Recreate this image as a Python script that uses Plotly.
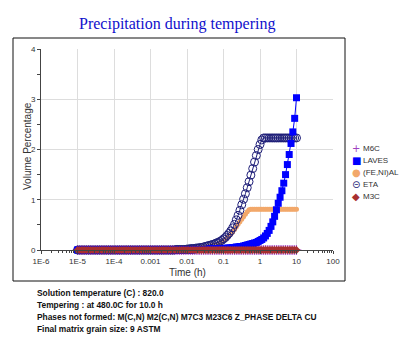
import plotly.graph_objects as go

W, H = 419, 345

# ---------------- data ----------------
time_h = [
    1.00e-5, 1.12e-5, 1.26e-5, 1.41e-5, 1.58e-5, 1.78e-5, 2.00e-5, 2.24e-5, 2.51e-5, 2.82e-5,
    3.16e-5, 3.55e-5, 3.98e-5, 4.47e-5, 5.01e-5, 5.62e-5, 6.31e-5, 7.08e-5, 7.94e-5, 8.91e-5,
    1.00e-4, 1.12e-4, 1.26e-4, 1.41e-4, 1.58e-4, 1.78e-4, 2.00e-4, 2.24e-4, 2.51e-4, 2.82e-4,
    3.16e-4, 3.55e-4, 3.98e-4, 4.47e-4, 5.01e-4, 5.62e-4, 6.31e-4, 7.08e-4, 7.94e-4, 8.91e-4,
    1.00e-3, 1.12e-3, 1.26e-3, 1.41e-3, 1.58e-3, 1.78e-3, 2.00e-3, 2.24e-3, 2.51e-3, 2.82e-3,
    3.16e-3, 3.55e-3, 3.98e-3, 4.47e-3, 5.01e-3, 5.62e-3, 6.31e-3, 7.08e-3, 7.94e-3, 8.91e-3,
    0.0100, 0.0112, 0.0126, 0.0141, 0.0158, 0.0178, 0.0200, 0.0224, 0.0251, 0.0282,
    0.0316, 0.0355, 0.0398, 0.0447, 0.0501, 0.0562, 0.0631, 0.0708, 0.0794, 0.0891,
    0.100, 0.112, 0.126, 0.141, 0.158, 0.178, 0.200, 0.224, 0.251, 0.282,
    0.316, 0.355, 0.398, 0.447, 0.501, 0.562, 0.631, 0.708, 0.794, 0.891,
    1.00, 1.12, 1.26, 1.41, 1.58, 1.78, 2.00, 2.24, 2.51, 2.82,
    3.16, 3.55, 3.98, 4.47, 5.01, 5.62, 6.31, 7.08, 7.94, 8.91,
    10.0,
]

m6c = [
    0, 0, 0, 0, 0, 0, 0, 0, 0, 0,
    0, 0, 0, 0, 0, 0, 0, 0, 0, 0,
    0, 0, 0, 0, 0, 0, 0, 0, 0, 0,
    0, 0, 0, 0, 0, 0, 0, 0, 0, 0,
    0, 0, 0, 0, 0, 0, 0, 0, 0, 0,
    0, 0, 0, 0, 0, 0, 0, 0, 0, 0,
    0, 0, 0, 0, 0, 0, 0, 0, 0, 0,
    0, 0, 0, 0, 0, 0, 0, 0, 0, 0,
    0, 0, 0, 0, 0, 0, 0, 0, 0, 0,
    0, 0, 0, 0, 0, 0, 0, 0, 0, 0,
    0, 0, 0, 0, 0, 0, 0, 0, 0, 0,
    0, 0, 0, 0, 0, 0, 0, 0, 0, 0,
    0,
]

laves = [
    0, 0, 0, 0, 0, 0, 0, 0, 0, 0,
    0, 0, 0, 0, 0, 0, 0, 0, 0, 0,
    0, 0, 0, 0, 0, 0, 0, 0, 0, 0,
    0, 0, 0, 0, 0, 0, 0, 0, 0, 0,
    0, 0, 0, 0, 0, 0, 0, 0, 0, 0,
    0, 0, 0, 0, 0, 0, 0, 0, 0, 0,
    0.00, 0.00, 0.00, 0.00, 0.01, 0.01, 0.01, 0.01, 0.01, 0.01,
    0.01, 0.01, 0.02, 0.02, 0.02, 0.02, 0.02, 0.02, 0.03, 0.03,
    0.03, 0.03, 0.04, 0.04, 0.04, 0.05, 0.05, 0.06, 0.06, 0.07,
    0.07, 0.08, 0.09, 0.10, 0.11, 0.12, 0.13, 0.14, 0.15, 0.17,
    0.19, 0.21, 0.24, 0.28, 0.33, 0.39, 0.47, 0.56, 0.67, 0.80,
    0.93, 1.05, 1.18, 1.33, 1.50, 1.70, 1.90, 2.12, 2.35, 2.62,
    3.03,
]

fe_ni_al = [
    0, 0, 0, 0, 0, 0, 0, 0, 0, 0,
    0, 0, 0, 0, 0, 0, 0, 0, 0, 0,
    0, 0, 0, 0, 0, 0, 0, 0, 0, 0,
    0, 0, 0, 0, 0, 0, 0, 0, 0, 0,
    0, 0, 0, 0, 0, 0, 0, 0, 0, 0,
    0, 0, 0, 0, 0, 0, 0, 0, 0, 0,
    0.01, 0.01, 0.02, 0.02, 0.02, 0.03, 0.03, 0.04, 0.04, 0.05,
    0.05, 0.06, 0.07, 0.08, 0.09, 0.10, 0.11, 0.12, 0.14, 0.16,
    0.18, 0.21, 0.24, 0.28, 0.32, 0.36, 0.41, 0.46, 0.51, 0.56,
    0.61, 0.66, 0.71, 0.76, 0.80, 0.81, 0.81, 0.81, 0.81, 0.81,
    0.81, 0.81, 0.81, 0.81, 0.81, 0.81, 0.81, 0.81, 0.81, 0.81,
    0.81, 0.81, 0.81, 0.81, 0.81, 0.81, 0.81, 0.81, 0.81, 0.81,
    0.81,
]

eta = [
    0, 0, 0, 0, 0, 0, 0, 0, 0, 0,
    0, 0, 0, 0, 0, 0, 0, 0, 0, 0,
    0, 0, 0, 0, 0, 0, 0, 0, 0, 0,
    0, 0, 0, 0, 0, 0, 0, 0, 0, 0,
    0, 0, 0, 0, 0, 0, 0, 0, 0, 0,
    0, 0, 0, 0, 0.01, 0.01, 0.01, 0.01, 0.01, 0.01,
    0.02, 0.02, 0.03, 0.03, 0.03, 0.04, 0.04, 0.05, 0.05, 0.06,
    0.07, 0.08, 0.09, 0.10, 0.11, 0.12, 0.14, 0.15, 0.17, 0.19,
    0.22, 0.25, 0.29, 0.33, 0.38, 0.44, 0.51, 0.60, 0.69, 0.79,
    0.90, 1.01, 1.12, 1.24, 1.36, 1.49, 1.62, 1.75, 1.88, 2.00,
    2.10, 2.19, 2.23, 2.23, 2.23, 2.23, 2.23, 2.23, 2.23, 2.23,
    2.23, 2.23, 2.23, 2.23, 2.23, 2.23, 2.23, 2.23, 2.23, 2.23,
    2.23,
]

m3c = [
    0, 0, 0, 0, 0, 0, 0, 0, 0, 0,
    0, 0, 0, 0, 0, 0, 0, 0, 0, 0,
    0, 0, 0, 0, 0, 0, 0, 0, 0, 0,
    0, 0, 0, 0, 0, 0, 0, 0, 0, 0,
    0, 0, 0, 0, 0, 0, 0, 0, 0, 0,
    0, 0, 0, 0, 0, 0, 0, 0, 0, 0,
    0, 0, 0, 0, 0, 0, 0, 0, 0, 0,
    0, 0, 0, 0, 0, 0, 0, 0, 0, 0,
    0, 0, 0, 0, 0, 0, 0, 0, 0, 0,
    0, 0, 0, 0, 0, 0, 0, 0, 0, 0,
    0, 0, 0, 0, 0, 0, 0, 0, 0, 0,
    0, 0, 0, 0, 0, 0, 0, 0, 0, 0,
    0,
]

x_tickvals = [1e-6, 1e-5, 1e-4, 1e-3, 1e-2, 1e-1, 1, 10, 100]
x_ticktext = ["1E-6", "1E-5", "1E-4", "0.001", "0.01", "0.1", "1", "10", "100"]
y_tickvals = [0, 1, 2, 3, 4]

legend_names = ["M6C", "LAVES", "(FE,NI)AL", "ETA", "M3C"]
legend_glyphs = ["+", "\u25A0", "\u25CF", "\u229D", "\u25C6"]

title_text = "Precipitation during tempering"
footer_lines = [
    "Solution temperature (C) : 820.0",
    "Tempering : at 480.0C for 10.0 h",
    "Phases not formed: M(C,N) M2(C,N) M7C3 M23C6 Z_PHASE DELTA CU",
    "Final matrix grain size: 9 ASTM",
]

# ---------------- styles ----------------
C_M6C = "#A040C0"
C_LAVES = "#0000FF"
C_FENIAL = "#F2A86A"
C_ETA = "#1E1E78"
C_M3C = "#A83030"
legend_colors = [C_M6C, C_LAVES, C_FENIAL, C_ETA, C_M3C]

fig = go.Figure()

fig.add_trace(go.Scatter(x=time_h, y=m6c, mode="markers", name="M6C",
                         marker=dict(symbol="cross-thin", size=7, line=dict(color=C_M6C, width=1)),
                         cliponaxis=False, showlegend=False))
fig.add_trace(go.Scatter(x=time_h, y=fe_ni_al, mode="lines+markers", name="(FE,NI)AL",
                         line=dict(color=C_FENIAL, width=2.5),
                         marker=dict(symbol="circle", size=5, color=C_FENIAL),
                         cliponaxis=False, showlegend=False))
fig.add_trace(go.Scatter(x=time_h, y=eta, mode="lines+markers", name="ETA",
                         line=dict(color=C_ETA, width=1),
                         marker=dict(symbol="circle-open", size=8, color=C_ETA, line=dict(width=1)),
                         cliponaxis=False, showlegend=False))
fig.add_trace(go.Scatter(x=time_h, y=laves, mode="lines+markers", name="LAVES",
                         line=dict(color=C_LAVES, width=1),
                         marker=dict(symbol="square", size=7, color=C_LAVES),
                         cliponaxis=False, showlegend=False))
fig.add_trace(go.Scatter(x=time_h, y=m3c, mode="markers", name="M3C",
                         marker=dict(symbol="diamond", size=6, color=C_M3C),
                         cliponaxis=False, showlegend=False))

minor_x = [m * 10.0 ** e for e in range(-6, 2) for m in range(2, 10)]


def px_x(p):
    return p / W


def px_y(p):
    return 1 - p / H


fig.update_layout(
    template="none",
    width=W, height=H, autosize=False,
    margin=dict(l=0, r=0, t=0, b=0, pad=0, autoexpand=False),
    paper_bgcolor="white", plot_bgcolor="white",
    showlegend=False,
    font=dict(family="Liberation Sans, Arial, sans-serif", size=8, color="#333333"),
    xaxis=dict(
        type="log", range=[-6, 2], domain=[px_x(41), px_x(333)], automargin=False,
        tickmode="array", tickvals=x_tickvals, ticktext=x_ticktext,
        ticks="outside", ticklen=3, tickcolor="#444444", tickwidth=1,
        showgrid=True, gridcolor="#DDDDDD", gridwidth=1,
        showline=True, linecolor="#444444", linewidth=1,
        zeroline=False,
        tickfont=dict(size=8, color="#333333"),
        minor=dict(tickmode="array", tickvals=minor_x, ticks="outside", ticklen=2,
                   tickcolor="#444444", tickwidth=1, showgrid=False),
    ),
    yaxis=dict(
        range=[0, 4], domain=[px_y(250), px_y(49)], automargin=False,
        tickmode="array", tickvals=y_tickvals,
        ticks="outside", ticklen=3, tickcolor="#444444", tickwidth=1,
        showgrid=True, gridcolor="#DDDDDD", gridwidth=1,
        showline=True, linecolor="#444444", linewidth=1,
        zeroline=False,
        tickfont=dict(size=8, color="#333333"),
        minor=dict(dtick=0.5, ticks="outside", ticklen=3, tickcolor="#444444",
                   tickwidth=1, showgrid=False),
    ),
)

# frame around the chart panel
fig.add_shape(type="rect", xref="paper", yref="paper",
              x0=px_x(13), x1=px_x(345), y0=px_y(281), y1=px_y(38),
              line=dict(color="#111111", width=1), fillcolor="rgba(0,0,0,0)", layer="below")

ann = []
ann.append(dict(text=title_text, xref="paper", yref="paper", x=px_x(177), y=px_y(24),
                xanchor="center", yanchor="middle", showarrow=False,
                font=dict(family="Liberation Serif, Times New Roman, serif", size=16, color="#1010CC")))
ann.append(dict(text="Volume Percentage", xref="paper", yref="paper", x=px_x(28), y=px_y(146),
                xanchor="center", yanchor="middle", textangle=-90, showarrow=False,
                font=dict(size=10, color="#333333")))
ann.append(dict(text="Time (h)", xref="paper", yref="paper", x=px_x(187), y=px_y(272),
                xanchor="center", yanchor="middle", showarrow=False,
                font=dict(size=10, color="#333333")))

for i, (nm, gl, col) in enumerate(zip(legend_names, legend_glyphs, legend_colors)):
    yy = 148 + 12 * i
    ann.append(dict(text=gl, xref="paper", yref="paper", x=px_x(356), y=px_y(yy),
                    xanchor="center", yanchor="middle", showarrow=False, borderpad=0,
                    font=dict(family="DejaVu Sans", size=10, color=col)))
    ann.append(dict(text=nm, xref="paper", yref="paper", x=px_x(362), y=px_y(yy),
                    xanchor="left", yanchor="middle", showarrow=False, borderpad=0,
                    font=dict(size=8, color="#333333")))

for i, line in enumerate(footer_lines):
    yy = 293 + 12 * i
    ann.append(dict(text="<b>" + line + "</b>", xref="paper", yref="paper", x=px_x(36), y=px_y(yy),
                    xanchor="left", yanchor="middle", showarrow=False, borderpad=0,
                    font=dict(size=8.4, color="#111111")))

fig.update_layout(annotations=ann)

fig.write_html("out.html")
